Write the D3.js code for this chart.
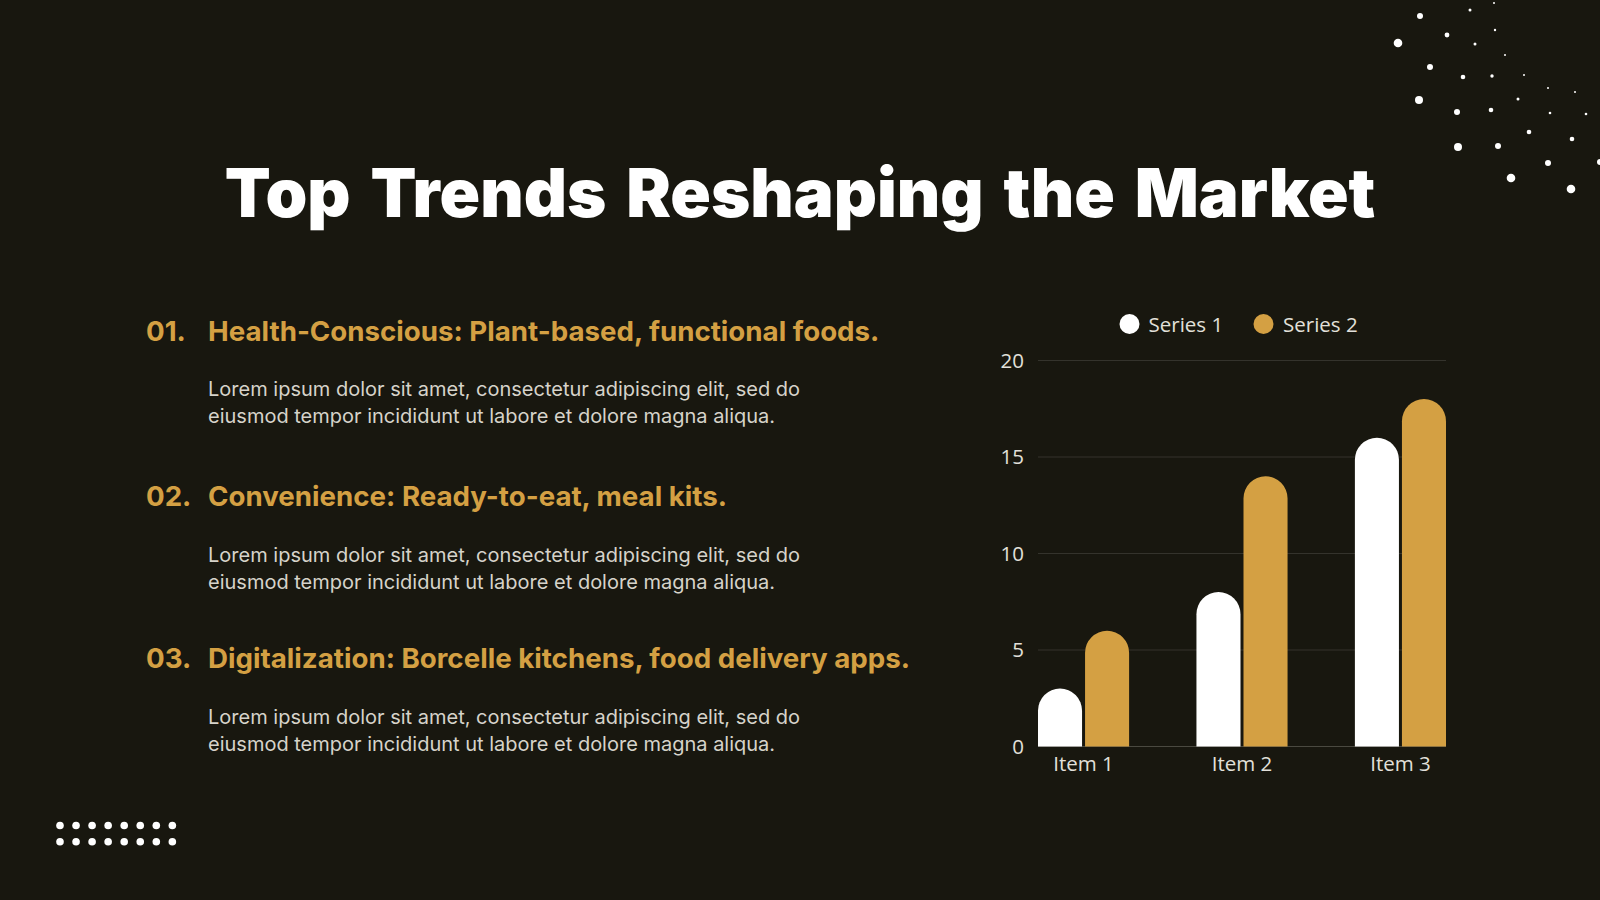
<!DOCTYPE html>
<html>
<head>
<meta charset="utf-8">
<script src="https://cdn.jsdelivr.net/npm/d3@7/dist/d3.min.js"></script>
<style>
  html, body { margin: 0; padding: 0; background: #18170f; }
  svg { display: block; }
</style>
</head>
<body>
<svg id="chart" width="1600" height="900"></svg>
<script>
// ---- Data ----
const categories = ["Item 1", "Item 2", "Item 3"];
const seriesNames = ["Series 1", "Series 2"];
const series1 = [3, 8, 16];
const series2 = [6, 14, 18];
const yTicks = [0, 5, 10, 15, 20];

const title = "Top Trends Reshaping the Market";
const trendNumbers = ["01.", "02.", "03."];
const trendHeadings = [
  "Health-Conscious: Plant-based, functional foods.",
  "Convenience: Ready-to-eat, meal kits.",
  "Digitalization: Borcelle kitchens, food delivery apps."
];
const bodyLines = [
  "Lorem ipsum dolor sit amet, consectetur adipiscing elit, sed do",
  "eiusmod tempor incididunt ut labore et dolore magna aliqua."
];

// decorative dots (top-right scatter): [x, y, r]
const sparkleDots = [
  [1420,16,3],[1470,10,1.5],[1494,3,1],[1447,35,2.4],[1398,43,4.3],[1495,30,1.2],
  [1475,44,1.5],[1505,55,1],[1430,67,3],[1463,77,2.3],[1492,76,1.7],[1524,75,1],
  [1548,88,1],[1575,92,1],[1419,100,4],[1457,112,3],[1491,110,2.3],[1518,99,1.5],
  [1550,113,1.3],[1586,114,1.3],[1458,147,4],[1498,146,3],[1529,132,2.3],[1572,139,2.3],
  [1548,163,3],[1600,162,3],[1511,178,4.3],[1571,189,4.3]
];

// ---- Setup ----
const COLORS = { bg: "#18170f", white: "#ffffff", gold: "#d4a043", text: "#d6d3ca", axis: "#e2e0da", grid: "#34332c" };
const svg = d3.select("#chart");
svg.append("rect").attr("width", 1600).attr("height", 900).attr("fill", COLORS.bg);

// decorative dots
svg.append("g").selectAll("circle").data(sparkleDots).join("circle")
  .attr("cx", d => d[0]).attr("cy", d => d[1]).attr("r", d => d[2]).attr("fill", "#fff");

const gridDots = [];
for (let r = 0; r < 2; r++) for (let c = 0; c < 8; c++) gridDots.push({ r, c });
svg.append("g").selectAll("circle").data(gridDots).join("circle")
  .attr("cx", d => 60 + d.c * 16.05).attr("cy", d => 825.5 + d.r * 16.3).attr("r", 3.8).attr("fill", "#fff");

// title
svg.append("text").attr("x", 800).attr("y", 217).attr("text-anchor", "middle")
  .attr("font-family", "Inter").attr("font-weight", 900).attr("font-size", 67)
  .attr("word-spacing", 6.5)
  .attr("fill", "#fff").text(title);

// trends list
const headBase = [340.5, 506, 668];
trendHeadings.forEach((h, i) => {
  const g = svg.append("g");
  g.append("text").attr("x", 146).attr("y", headBase[i])
    .attr("font-family", "Inter").attr("font-weight", 700).attr("font-size", 27.7)
    .attr("fill", COLORS.gold).text(trendNumbers[i]);
  g.append("text").attr("x", 208).attr("y", headBase[i])
    .attr("font-family", "Inter").attr("font-weight", 700).attr("font-size", 27.7)
    .attr("fill", COLORS.gold).text(h);
  bodyLines.forEach((l, j) => {
    g.append("text").attr("x", 208).attr("y", headBase[i] + 55.5 + j * 27.2)
      .attr("font-family", "Inter").attr("font-weight", 400).attr("font-size", 20)
      .attr("fill", COLORS.text).text(l);
  });
});

// ---- Chart ----
const plot = { left: 1038, right: 1446, top: 360.5, bottom: 746.5 };
const x = d3.scaleBand().domain(categories).range([plot.left, plot.right]).paddingInner(0.425).paddingOuter(0);
const xs = d3.scaleBand().domain(seriesNames).range([0, x.bandwidth()]).paddingInner(3 / 47).paddingOuter(0);
const y = d3.scaleLinear().domain([0, 20]).range([plot.bottom, plot.top]);

// gridlines
svg.append("g").selectAll("line").data(yTicks).join("line")
  .attr("x1", plot.left).attr("x2", plot.right)
  .attr("y1", d => y(d)).attr("y2", d => y(d))
  .attr("stroke", d => d === 0 ? "#4a4940" : COLORS.grid).attr("stroke-width", 1);

// y axis
const yAxis = d3.axisLeft(y).tickValues(yTicks).tickSize(0).tickPadding(14);
const yg = svg.append("g").attr("transform", `translate(${plot.left},0)`).call(yAxis);
yg.select(".domain").remove();
yg.selectAll("text").attr("font-family", "Open Sans").attr("font-size", 20.5).attr("fill", COLORS.axis);

// x axis
const xAxis = d3.axisBottom(x).tickSize(0).tickPadding(10);
const xg = svg.append("g").attr("transform", `translate(0,${plot.bottom})`).call(xAxis);
xg.select(".domain").remove();
xg.selectAll("text").attr("font-family", "Open Sans").attr("font-size", 20.5).attr("fill", COLORS.axis);

// bars
const rows = [];
categories.forEach((c, i) => {
  rows.push({ cat: c, s: seriesNames[0], v: series1[i], color: COLORS.white });
  rows.push({ cat: c, s: seriesNames[1], v: series2[i], color: COLORS.gold });
});
function roundedTop(x0, w, yTop, yBot) {
  const r = w / 2;
  const p = d3.path();
  p.moveTo(x0, yBot);
  p.lineTo(x0, yTop + r);
  p.arc(x0 + r, yTop + r, r, Math.PI, 0);
  p.lineTo(x0 + w, yBot);
  p.closePath();
  return p.toString();
}
svg.append("g").selectAll("path").data(rows).join("path")
  .attr("d", d => roundedTop(x(d.cat) + xs(d.s), xs.bandwidth(), y(d.v), y(0)))
  .attr("fill", d => d.color);

// legend
const legendItems = [
  { name: seriesNames[0], color: COLORS.white, cx: 1129.5, tx: 1148.5 },
  { name: seriesNames[1], color: COLORS.gold, cx: 1263.5, tx: 1283 }
];
const lg = svg.append("g");
legendItems.forEach(li => {
  lg.append("circle").attr("cx", li.cx).attr("cy", 324).attr("r", 10).attr("fill", li.color);
  lg.append("text").attr("x", li.tx).attr("y", 331.5)
    .attr("font-family", "Open Sans").attr("font-size", 20.5).attr("fill", COLORS.axis).text(li.name);
});
</script>
</body>
</html>
